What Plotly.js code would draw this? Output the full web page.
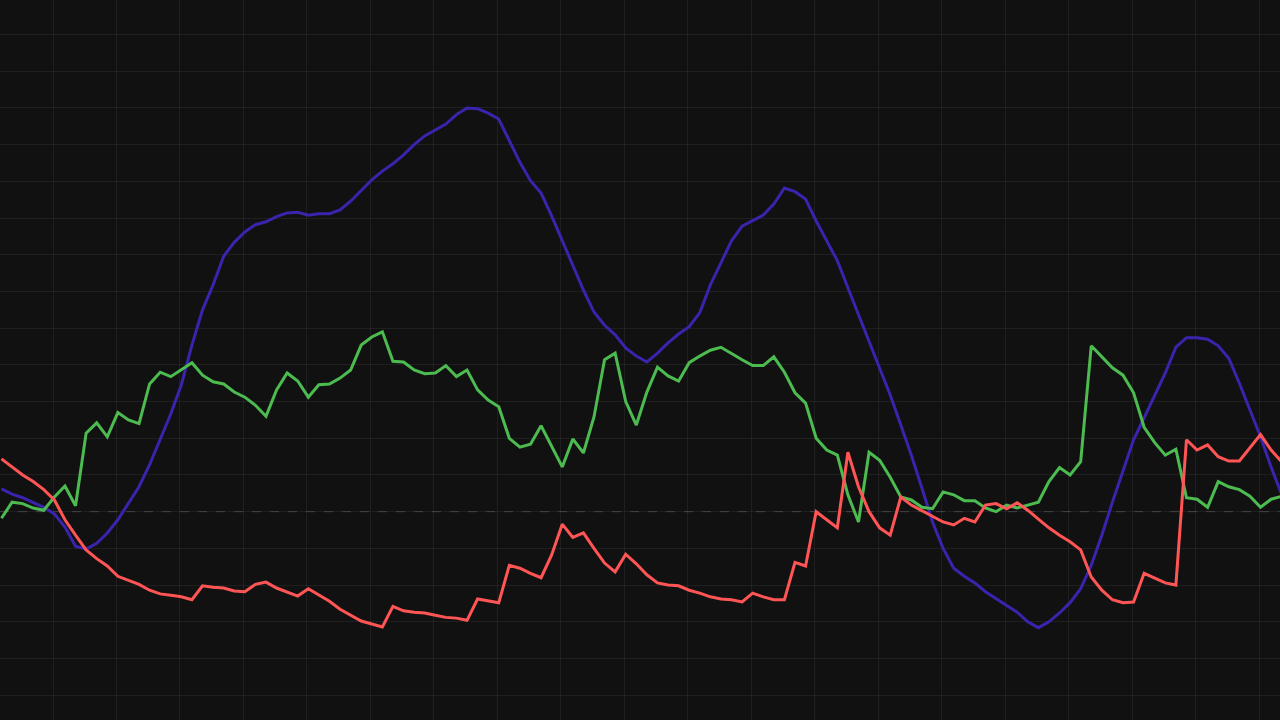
<!DOCTYPE html>
<html>
<head>
<meta charset="utf-8">
<script src="https://cdn.plot.ly/plotly-3.0.1.min.js"></script>
<style>
  html, body { margin: 0; padding: 0; background: #111111; }
  #chart { width: 1280px; height: 720px; }
</style>
</head>
<body>
<div id="chart"></div>
<script>
// three cumulative series, one value per period (percent)
const PERIODS = 122;

const BLUE = [
  3.1, 2.4, 1.9, 1.3, 0.6, -0.3, -2.1, -4.7, -5.1, -4.3,
  -2.9, -1.1, 1.2, 3.4, 6.4, 9.8, 13.3, 17.3, 22.7, 27.5,
  30.9, 34.8, 36.7, 38.1, 39.1, 39.5, 40.2, 40.7, 40.8, 40.4,
  40.6, 40.6, 41.1, 42.3, 43.7, 45.2, 46.4, 47.4, 48.6, 50.0,
  51.2, 52.0, 52.8, 54.1, 55.0, 54.9, 54.3, 53.5, 50.6, 47.6,
  45.1, 43.4, 40.3, 36.9, 33.6, 30.2, 27.2, 25.4, 24.1, 22.3,
  21.2, 20.4, 21.6, 23.0, 24.2, 25.2, 27.1, 30.9, 33.9, 36.9,
  38.9, 39.7, 40.4, 41.9, 44.1, 43.6, 42.6, 39.6, 36.9, 34.2,
  30.5, 26.9, 23.1, 19.6, 15.9, 11.8, 7.7, 3.2, -1.4, -5.0,
  -7.7, -8.8, -9.7, -10.9, -11.8, -12.7, -13.7, -15.0, -15.8, -15.0,
  -13.8, -12.4, -10.5, -7.3, -3.2, 1.3, 5.7, 9.8, 12.8, 15.8,
  18.9, 22.4, 23.7, 23.7, 23.5, 22.6, 20.9, 17.5, 13.9, 10.2,
  6.1, 2.3
];

const GREEN = [
  -0.9, 1.3, 1.1, 0.5, 0.2, 2.0, 3.5, 0.8, 10.7, 12.1,
  10.2, 13.5, 12.5, 12.0, 17.4, 19.0, 18.4, 19.3, 20.3, 18.6,
  17.7, 17.4, 16.3, 15.6, 14.5, 13.0, 16.6, 18.9, 17.8, 15.6,
  17.3, 17.4, 18.2, 19.3, 22.7, 23.8, 24.5, 20.5, 20.4, 19.3,
  18.8, 18.9, 19.9, 18.4, 19.3, 16.6, 15.2, 14.3, 10.0, 8.8,
  9.2, 11.7, 8.8, 6.1, 9.9, 8.0, 12.9, 20.7, 21.6, 15.0,
  11.8, 16.3, 19.7, 18.5, 17.8, 20.3, 21.2, 22.0, 22.4, 21.5,
  20.7, 19.9, 19.9, 21.1, 19.0, 16.2, 14.8, 10.0, 8.4, 7.7,
  2.3, -1.4, 8.1, 7.0, 4.7, 2.0, 1.6, 0.6, 0.4, 2.7,
  2.3, 1.5, 1.5, 0.5, 0.0, 0.9, 0.5, 0.9, 1.3, 4.1,
  6.0, 5.0, 6.8, 22.6, 21.1, 19.6, 18.6, 16.2, 11.5, 9.4,
  7.7, 8.5, 1.9, 1.7, 0.6, 4.1, 3.4, 3.0, 2.1, 0.6,
  1.7, 2.1
];

const RED = [
  7.2, 6.1, 5.0, 4.1, 3.0, 1.6, -1.1, -3.2, -5.2, -6.4,
  -7.4, -8.8, -9.3, -9.9, -10.7, -11.2, -11.4, -11.6, -12.0, -10.1,
  -10.3, -10.4, -10.8, -10.9, -9.9, -9.6, -10.4, -10.9, -11.5, -10.5,
  -11.4, -12.2, -13.3, -14.1, -14.9, -15.3, -15.7, -12.9, -13.5, -13.7,
  -13.8, -14.1, -14.4, -14.5, -14.8, -11.9, -12.2, -12.4, -7.3, -7.7,
  -8.4, -9.0, -5.9, -1.7, -3.5, -2.9, -5.0, -7.0, -8.2, -5.8,
  -7.1, -8.6, -9.7, -10.0, -10.1, -10.7, -11.1, -11.6, -11.9, -12.0,
  -12.3, -11.1, -11.6, -12.0, -12.0, -6.9, -7.4, 0.0, -1.1, -2.2,
  8.1, 3.4, 0.0, -2.2, -3.2, 2.0, 0.9, 0.1, -0.7, -1.4,
  -1.8, -0.9, -1.4, 0.9, 1.1, 0.4, 1.2, 0.2, -1.0, -2.2,
  -3.2, -4.1, -5.2, -8.9, -10.7, -12.0, -12.4, -12.3, -8.4, -9.0,
  -9.7, -10.0, 9.8, 8.4, 9.1, 7.5, 6.9, 6.9, 8.7, 10.5,
  8.4, 6.8
];

const SERIES_NAMES  = ['Blue', 'Green', 'Red'];
const SERIES_COLORS = ['#3a24ad', '#4cbb50', '#ff5555'];

const periods = Array.from({ length: PERIODS }, (_, i) => i);

const traces = [BLUE, GREEN, RED].map((ys, k) => ({
    type: 'scatter',
    mode: 'lines',
    name: SERIES_NAMES[k],
    x: periods,
    y: ys,
    line: { color: SERIES_COLORS[k], width: 3, shape: 'linear' },
    hoverinfo: 'skip'
}));

const gridColor = 'rgba(255,255,255,0.06)';

const layout = {
    width: 1280,
    height: 720,
    margin: { t: 0, b: 0, l: 0, r: 0, pad: 0 },
    paper_bgcolor: '#111111',
    plot_bgcolor: '#111111',
    showlegend: false,
    xaxis: {
        range: [-0.14, 120.84],
        tick0: 4.87, dtick: 6,
        showgrid: true, gridcolor: gridColor, gridwidth: 1,
        zeroline: false, showticklabels: false, ticks: '', showline: false
    },
    yaxis: {
        range: [-28.38, 69.71],
        tick0: 0, dtick: 5,
        showgrid: true, gridcolor: gridColor, gridwidth: 1,
        zeroline: false, showticklabels: false, ticks: '', showline: false
    },
    shapes: [{
        type: 'line', xref: 'paper', yref: 'y',
        x0: 0, x1: 1, y0: 0, y1: 0,
        line: { color: '#3a3a3a', width: 1, dash: 'dash' },
        layer: 'below'
    }]
};

Plotly.newPlot('chart', traces, layout, { displayModeBar: false, staticPlot: true });
</script>
</body>
</html>
